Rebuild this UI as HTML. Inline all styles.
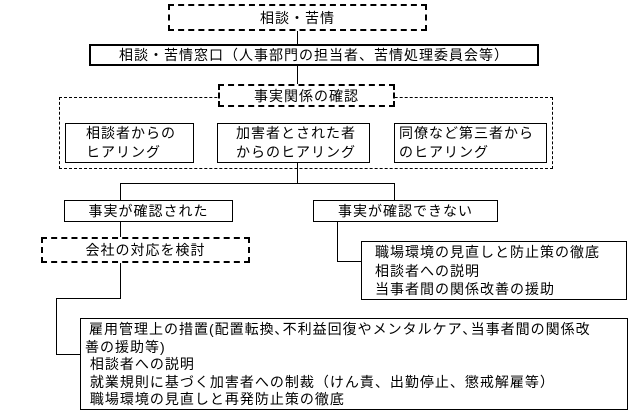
<!DOCTYPE html>
<html><head><meta charset="utf-8"><style>
body{margin:0;width:643px;height:416px;background:#fff;position:relative;overflow:hidden;font-family:"Liberation Sans","Noto Sans CJK JP",sans-serif;font-size:14px;letter-spacing:1px;color:#000}
.b{position:absolute;box-sizing:border-box;border:1px solid #000;background:#fff}
.d{border:2px dashed #000}
.c{display:flex;align-items:center;justify-content:center;white-space:nowrap}
.l{position:absolute;background:#000}
.t{line-height:19px;padding-left:5px;white-space:nowrap}
</style></head><body>
<div class="b d" style="left:59px;top:97px;width:494px;height:72px;border-width:1px;border-style:dashed;background:none"></div>
<div class="l" style="left:297px;top:31px;width:1px;height:53px"></div>
<div class="l" style="left:297px;top:162px;width:1px;height:21px"></div>
<div class="l" style="left:120px;top:183px;width:275px;height:1px"></div>
<div class="l" style="left:120px;top:183px;width:1px;height:17px"></div>
<div class="l" style="left:394px;top:183px;width:1px;height:17px"></div>
<div class="l" style="left:120px;top:221px;width:1px;height:78px"></div>
<div class="l" style="left:56px;top:298px;width:65px;height:1px"></div>
<div class="l" style="left:56px;top:298px;width:1px;height:57px"></div>
<div class="l" style="left:56px;top:354px;width:25px;height:1px"></div>
<div class="l" style="left:337px;top:221px;width:1px;height:41px"></div>
<div class="l" style="left:337px;top:261px;width:25px;height:1px"></div>

<div class="b d c" style="left:168px;top:4px;width:259px;height:27px">相談・苦情</div>
<div class="b c" style="left:89px;top:44px;width:450px;height:22px;border-width:2px">相談・苦情窓口（人事部門の担当者、苦情処理委員会等）</div>
<div class="b d c" style="left:218px;top:84px;width:177px;height:23px">事実関係の確認</div>
<div class="b t" style="left:65px;top:123px;width:129px;height:40px;padding-left:20px">相談者からの<br>ヒアリング</div>
<div class="b t" style="left:217px;top:123px;width:153px;height:40px;padding-left:18px">加害者とされた者<br>からのヒアリング</div>
<div class="b t" style="left:394px;top:123px;width:153px;height:40px;padding-left:4px">同僚など第三者から<br>のヒアリング</div>
<div class="b c" style="left:64px;top:200px;width:169px;height:22px">事実が確認された</div>
<div class="b c" style="left:313px;top:200px;width:185px;height:22px">事実が確認できない</div>
<div class="b d c" style="left:41px;top:237px;width:209px;height:26px">会社の対応を検討</div>
<div class="b t" style="left:361px;top:241px;width:266px;height:59px;line-height:18.5px;padding-left:13px;padding-top:1px">職場環境の見直しと防止策の徹底<br>相談者への説明<br>当事者間の関係改善の援助</div>
<div class="b" style="left:80px;top:318px;width:548px;height:92px;line-height:17.6px;padding:2px 4px;white-space:nowrap"><span style="padding-left:4px">雇用管理上の措置(配置転換､不利益回復やメンタルケア､当事者間の関係改</span><br>善の援助等)<br>&nbsp;相談者への説明<br>&nbsp;就業規則に基づく加害者への制裁（けん責、出勤停止、懲戒解雇等）<br>&nbsp;職場環境の見直しと再発防止策の徹底</div>
</body></html>
